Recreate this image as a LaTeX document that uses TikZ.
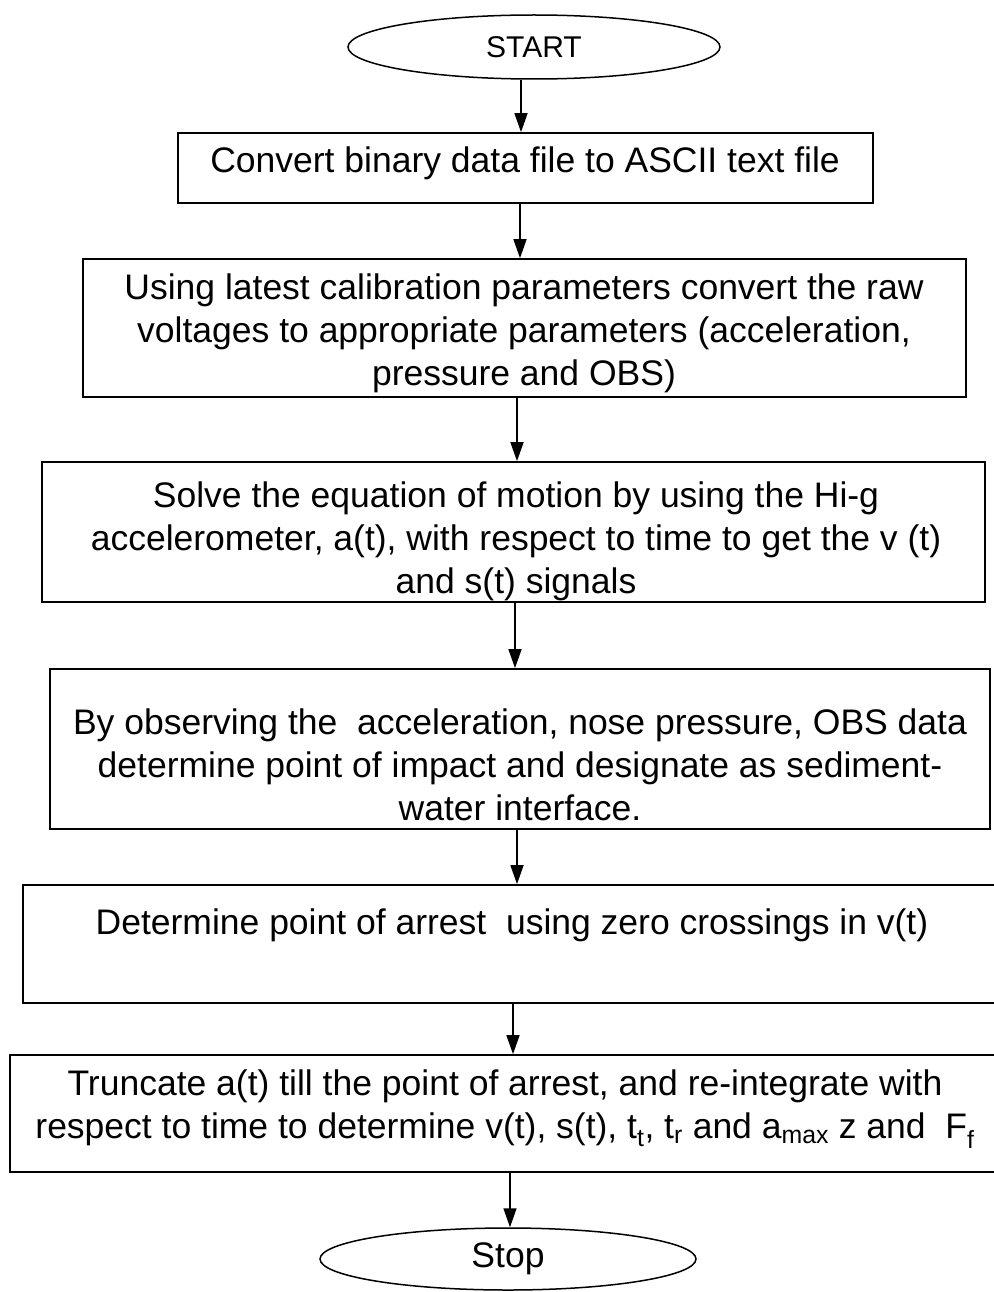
\documentclass[tikz,border=0pt]{standalone}
\usepackage{fontspec}
\setmainfont{Liberation Sans}
\usetikzlibrary{arrows.meta,shapes.geometric}
\begin{document}
\begin{tikzpicture}[x=1pt,y=-1pt,
  box/.style={draw, line width=1.7pt, rectangle, inner sep=0pt},
  term/.style={draw, line width=1.5pt, ellipse, inner sep=0pt},
  txt/.style={align=center, inner sep=0pt, font=\fontsize{35.5}{43}\selectfont},
  arr/.style={line width=1.5pt, -{Triangle[length=19pt,width=13pt]}}]
\useasboundingbox (0,0) rectangle (993,1292);
% terminals
\node[term, minimum width=372pt, minimum height=64pt, font=\fontsize{30}{36}\selectfont] (start) at (534,47) {START};
\node[term, minimum width=376pt, minimum height=62pt, font=\fontsize{35.5}{43}\selectfont] (stop) at (508,1259) {Stop};
% boxes
\node[box, minimum width=695pt, minimum height=70pt] (b1) at (525.5,168) {};
\node[box, minimum width=883pt, minimum height=138pt] (b2) at (524.5,328) {};
\node[box, minimum width=943pt, minimum height=140pt] (b3) at (513.5,532) {};
\node[box, minimum width=940pt, minimum height=160pt] (b4) at (520,749) {};
\node[box, minimum width=987pt, minimum height=118pt] (b5) at (516.5,944) {};
\node[box, minimum width=1000pt, minimum height=117pt] (b6) at (510,1113.5) {};
% texts
\node[txt] (t1) at (525,163) {Convert binary data file to ASCII text file};
\node[txt] (t2) at (524,333) {Using latest calibration parameters convert the raw\\voltages to appropriate parameters (acceleration,\\pressure and OBS)};
\node[txt] (t3) at (516,541) {Solve the equation of motion by using the Hi-g\\accelerometer, a(t), with respect to time to get the v (t)\\and s(t) signals};
\node[txt] (t4) at (520,765) {By observing the\ \ acceleration, nose pressure, OBS data\\determine point of impact and designate as sediment-\\water interface.};
\node[txt] (t5) at (512,925) {Determine point of arrest\ \ using zero crossings in v(t)};
\node[txt] (t6) at (505,1109) {Truncate a(t) till the point of arrest, and re-integrate with\\respect to time to determine v(t), s(t), t\textsubscript{t}, t\textsubscript{r} and a\textsubscript{max} z and\ \ F\textsubscript{f}};
% arrow lanes
\coordinate (a1) at (521,0);
\coordinate (a2) at (520,0);
\coordinate (a3) at (517,0);
\coordinate (a4) at (515,0);
\coordinate (a5) at (517,0);
\coordinate (a6) at (513,0);
\coordinate (a7) at (510,0);
\draw[arr] (start.south -| a1) -- (b1.north -| a1);
\draw[arr] (b1.south -| a2) -- (b2.north -| a2);
\draw[arr] (b2.south -| a3) -- (b3.north -| a3);
\draw[arr] (b3.south -| a4) -- (b4.north -| a4);
\draw[arr] (b4.south -| a5) -- (b5.north -| a5);
\draw[arr] (b5.south -| a6) -- (b6.north -| a6);
\draw[arr] (b6.south -| a7) -- (stop.north -| a7);
\end{tikzpicture}
\end{document}
